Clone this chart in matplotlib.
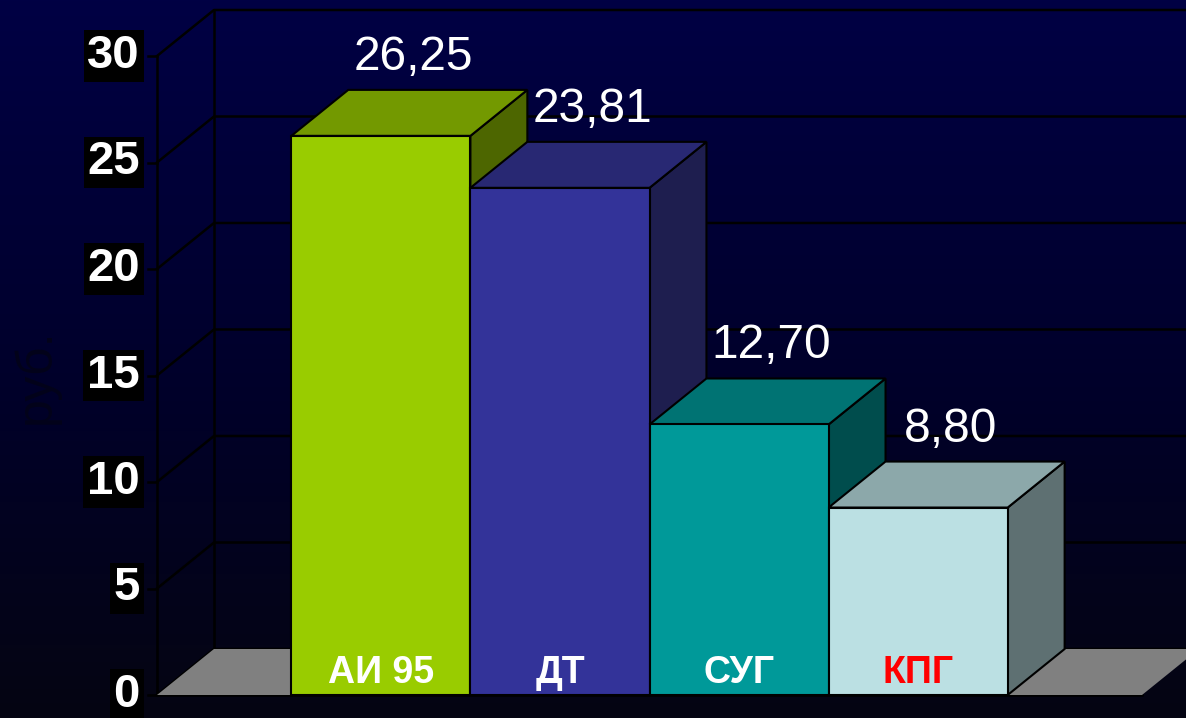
import numpy as np
import matplotlib.pyplot as plt
from matplotlib.patches import Polygon
from matplotlib.colors import LinearSegmentedColormap

# data
categories = ['АИ 95', 'ДТ', 'СУГ', 'КПГ']
prices = [26.25, 23.81, 12.70, 8.80]
value_labels = ['26,25', '23,81', '12,70', '8,80']
yticks = [0, 5, 10, 15, 20, 25, 30]

front_colors = ['#99cc00', '#333399', '#009999', '#bbe0e3']
top_colors = ['#739900', '#282873', '#007373', '#8ca8aa']
side_colors = ['#4d6600', '#1e1e4f', '#004d4d', '#5e7072']
label_colors = ['white', 'white', 'white', '#ff0000']

# depth of the 3d box, in data units
DX = 0.318
DY = 2.16
XMAX = 5.5

fig = plt.figure(figsize=(11.86, 7.18), dpi=100)

# background gradient
bg = fig.add_axes([0, 0, 1, 1], zorder=-10)
cmap = LinearSegmentedColormap.from_list('bg', ['#000044', '#00002c', '#050512'])
bg.imshow(np.linspace(0, 1, 256).reshape(-1, 1), aspect='auto', cmap=cmap,
          extent=[0, 1, 0, 1])
bg.axis('off')

ax = fig.add_axes([157 / 1186, 23 / 718, 985 / 1186, 639 / 718])
ax.set_xlim(0, XMAX)
ax.set_ylim(0, 30)
ax.axis('off')
ax.patch.set_alpha(0)

lw = 1.8
# floor
ax.add_patch(Polygon([(0, 0), (XMAX, 0), (XMAX + DX, DY), (DX, DY)],
                     closed=True, fc='#808080', ec='none', clip_on=False, zorder=1))

# grid on side wall and back wall
for t in yticks:
    ax.plot([0, DX, XMAX + 2 * DX], [t, t + DY, t + DY], color='black', lw=lw,
            clip_on=False, zorder=0.5)
    ax.plot([-0.05, 0], [t, t], color='black', lw=lw, clip_on=False, zorder=0.5)
    ax.text(-0.095, t, str(t), ha='right', va='center', color='white',
            fontsize=34, fontweight='bold', family='Liberation Sans',
            bbox=dict(boxstyle='square,pad=0.08', fc='black', ec='none'),
            zorder=3)
ax.plot([DX, DX], [DY, 30 + DY], color='black', lw=lw, clip_on=False, zorder=0.5)
ax.plot([0, 0], [0, 30], color='black', lw=lw, clip_on=False, zorder=0.5)
ax.plot([0, XMAX], [0, 0], color='black', lw=lw, clip_on=False, zorder=0.5)

# 3d bars, left to right so the next front hides the previous side
for i, v in enumerate(prices):
    x0 = 0.75 + i
    x1 = x0 + 1
    z = 2 + i
    side = [(x1, 0), (x1 + DX, DY), (x1 + DX, v + DY), (x1, v)]
    top = [(x0, v), (x1, v), (x1 + DX, v + DY), (x0 + DX, v + DY)]
    front = [(x0, 0), (x1, 0), (x1, v), (x0, v)]
    for pts, c in [(side, side_colors[i]), (top, top_colors[i]), (front, front_colors[i])]:
        ax.add_patch(Polygon(pts, closed=True, fc=c, ec='black', lw=1.5,
                             joinstyle='miter', clip_on=False, zorder=z))
    ax.text(x0 + 0.5, 0.56, categories[i], ha='center', va='baseline',
            color=label_colors[i], fontsize=27, fontweight='bold',
            family='Liberation Sans', zorder=10)
    ax.text(x0 + 0.5 + 0.18, v + 3.1, value_labels[i], ha='center', va='baseline',
            color='white', fontsize=34.5, family='Liberation Sans', zorder=10)

fig.text(36 / 1186, 1 - 376 / 718, 'руб.', rotation=90, ha='center', va='center',
         color='#03031a', fontsize=36, family='Liberation Sans')

fig.savefig('out.png', dpi=100)
